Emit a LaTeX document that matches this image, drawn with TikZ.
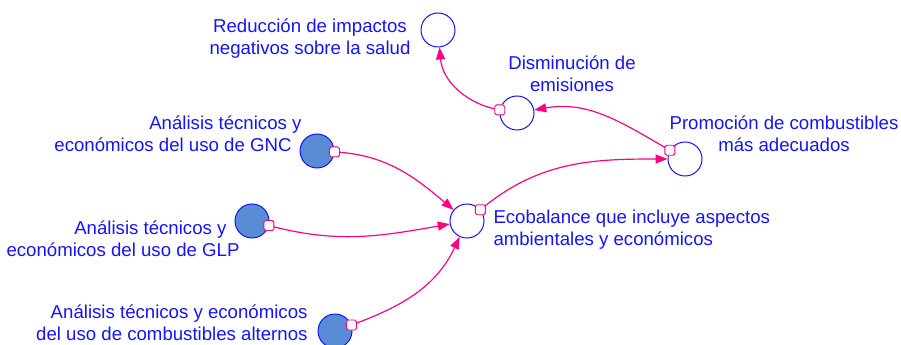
\documentclass[tikz,border=0pt]{standalone}
\usepackage{fontspec}
\setmainfont{Liberation Sans}
\usepackage{tikz}
\usetikzlibrary{arrows.meta}
\definecolor{vblue}{RGB}{20,20,255}
\definecolor{vpink}{RGB}{255,0,128}
\definecolor{vfill}{RGB}{88,140,212}

\begin{document}
\begin{tikzpicture}[x=0.03cm, y=-0.03cm, line width=0.85pt,
  var/.style={draw=vblue, circle, minimum size=1.02cm, inner sep=0pt},
  lever/.style={var, fill=vfill},
  lbl/.style={text=vblue, font=\fontsize{15.9}{18.8}\selectfont, inner sep=0pt},
  link/.style={draw=vpink, line width=1pt, -{Triangle[length=0.36cm,width=0.27cm]}},
  tap/.style={draw=vpink, fill=white, rounded corners=1.5pt, minimum size=0.3cm, inner sep=0pt, line width=0.8pt}]
\useasboundingbox (0,0) rectangle (901,345);
% variables
\node[var] (R) at (438,30) {};
\node[var] (D) at (517,113) {};
\node[var] (P) at (685,159) {};
\node[var] (E) at (467,221) {};
\node[lever] (GNC) at (317,151) {};
\node[lever] (GLP) at (252,221) {};
\node[lever] (ALT) at (335,331) {};
% labels
\node[lbl, align=center] (tR) at (310,39) {Reducción de impactos\\negativos sobre la salud};
\node[lbl, align=center] (tD) at (572,74) {Disminución de\\emisiones};
\node[lbl, align=center] (tP) at (784,134) {Promoción de combustibles\\más adecuados};
\node[lbl, align=left, anchor=west] (tE) at (493,230) {Ecobalance que incluye aspectos\\ambientales y económicos};
\node[lbl, align=right, anchor=east] (tGNC) at (302,134) {Análisis técnicos y\\económicos del uso de GNC\hspace*{0.3cm}};
\node[lbl, align=right, anchor=east] (tGLP) at (240,239) {Análisis técnicos y\hspace*{0.39cm}\\económicos del uso de GLP};
\node[lbl, align=right, anchor=east] (tALT) at (308,323) {Análisis técnicos y económicos\\del uso de combustibles alternos};
% links
\draw[link] (GNC) to[out=-3, in=140] node[pos=0, tap] {} (E);
\draw[link] (GLP) to[out=-15, in=190] node[pos=0, tap] {} (E);
\draw[link] (ALT) to[out=20, in=-115] node[pos=0, tap] {} (E);
\draw[link] (E) to[out=40, in=180] node[pos=0, tap] {} (P);
\draw[link] (P) to[out=150, in=10] node[pos=0, tap] {} (D);
\draw[link] (D) to[out=170, in=-85] node[pos=0, tap] {} (R);
\end{tikzpicture}
\end{document}
